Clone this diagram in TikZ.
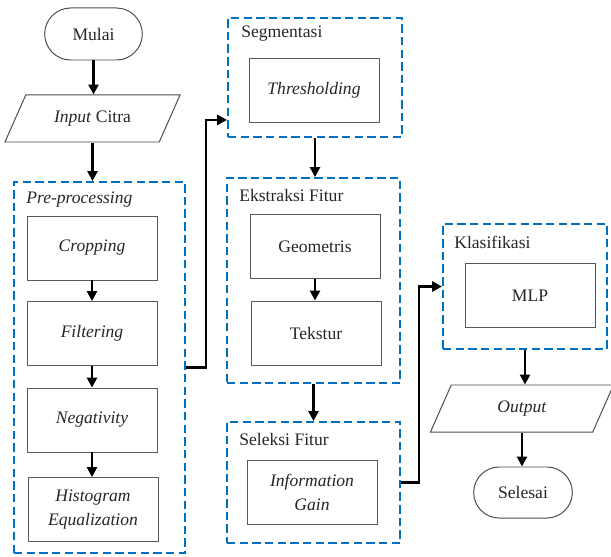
\documentclass[tikz,border=0pt]{standalone}
\usepackage{fontspec}
\setmainfont{Liberation Serif}
\usetikzlibrary{arrows.meta,positioning,shapes.misc,shapes.geometric,calc}
\definecolor{grpblue}{RGB}{0,112,192}
\tikzset{
  terminal/.style={rounded rectangle, draw=black!70, line width=0.7pt, minimum width=2.675cm, minimum height=1.3cm},
  io/.style={trapezium, trapezium left angle=50, trapezium right angle=130, trapezium stretches body, draw=black!70, line width=0.7pt, minimum width=4.375cm, minimum height=1.175cm},
  process/.style={draw=black!65, line width=0.6pt, minimum width=3.25cm, minimum height=1.6cm, align=center},
  group/.style={draw=grpblue, line width=1.3pt, dash pattern=on 6pt off 3pt},
  grouptitle/.style={anchor=west, inner sep=0pt},
  flow/.style={-{Triangle[length=7pt,width=7pt]}, line width=1.8pt}
}

\begin{document}
\begin{tikzpicture}[x=0.025cm, y=-0.025cm, font=\fontsize{12.5}{17.5}\selectfont, text=black!85]
  \useasboundingbox (0,0) rectangle (611,557);
  % kolom kiri
  \node[terminal] (mulai) at (93.5,34) {Mulai};
  \node[io] (input) at (92.5,118.5) {\textit{Input} Citra};
  \node[group, minimum width=4.275cm, minimum height=9.275cm] (pre) at (99.5,367.5) {};
  \node[grouptitle] (pretitle) at ($(pre.north west)+(13,19)$) {\textit{Pre-processing}};
  \node[process] (crop) at (92,248) {\textit{Cropping}};
  \node[process] (filt) at (92,333.5) {\textit{Filtering}};
  \node[process] (neg) at (92,420) {\textit{Negativity}};
  \node[process] (histo) at (93,509.5) {\textit{Histogram}\\\textit{Equalization}};
  % kolom tengah
  \node[group, minimum width=4.35cm, minimum height=2.975cm] (seg) at (315,77.5) {};
  \node[grouptitle] (segtitle) at ($(seg.north west)+(14,17)$) {Segmentasi};
  \node[process] (thres) at (314,90.5) {\textit{Thresholding}};
  \node[group, minimum width=4.325cm, minimum height=5.125cm] (ext) at (313.5,280.5) {};
  \node[grouptitle] (exttitle) at ($(ext.north west)+(13,18)$) {Ekstraksi Fitur};
  \node[process] (geo) at (315,246.5) {Geometris};
  \node[process] (tek) at (316,333) {Tekstur};
  \node[group, minimum width=4.325cm, minimum height=3.025cm] (sel) at (313.5,482.5) {};
  \node[grouptitle] (seltitle) at ($(sel.north west)+(13,18)$) {Seleksi Fitur};
  \node[process] (ig) at (312,492.5) {\textit{Information}\\\textit{Gain}};
  % kolom kanan
  \node[group, minimum width=4.1cm, minimum height=3.125cm] (kla) at (525,286.5) {};
  \node[grouptitle] (klatitle) at ($(kla.north west)+(12,19)$) {Klasifikasi};
  \node[process] (mlp) at (530,295.5) {MLP};
  \node[io, minimum width=4.575cm] (out) at (522,408.5) {\textit{Output}};
  \node[terminal, minimum width=2.7cm, minimum height=1.275cm] (selesai) at (523,492.5) {Selesai};
  % alur
  \draw[flow] (mulai.south) -- (mulai.south |- input.north);
  \draw[flow] (input.south) -- (input.south |- pre.north);
  \draw[flow] (crop) -- (filt);
  \draw[flow] (filt) -- (neg);
  \draw[flow] (neg.south) -- (neg.south |- histo.north);
  \draw[flow] (pre.east) -- ++(20,0) |- ($(seg.south west)+(0,-18)$);
  \draw[flow] (seg.south) -- (seg.south |- ext.north);
  \draw[flow] (geo.south) -- (geo.south |- tek.north);
  \draw[flow] (ext.south) -- (ext.south |- sel.north);
  \draw[flow] (sel.east) -- ++(18,0) |- (kla.west);
  \draw[flow] (kla.south) -- (kla.south |- out.north);
  \draw[flow] (out.south) -- (out.south |- selesai.north);
\end{tikzpicture}
\end{document}
